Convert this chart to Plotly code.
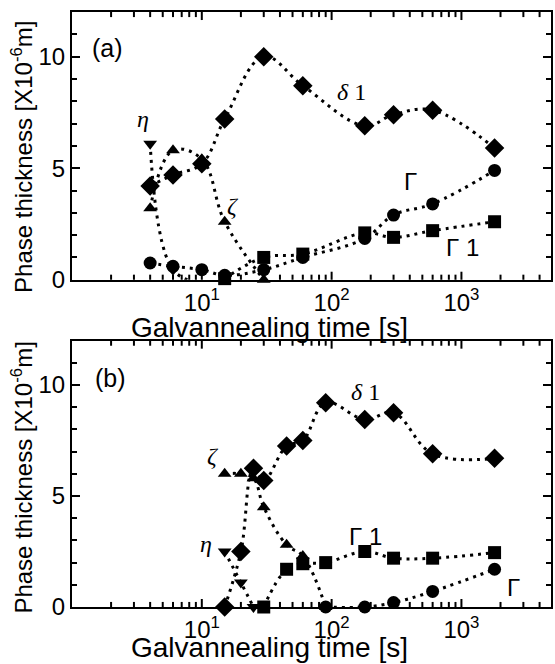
import plotly.graph_objects as go

# ---------------- Panel (a) data ----------------
a_t_delta1 = [4, 6, 10, 15, 30, 60, 180, 300, 600, 1800]
a_delta1 = [4.2, 4.7, 5.2, 7.2, 10.0, 8.7, 6.9, 7.4, 7.6, 5.9]
a_t_gamma = [4, 6, 10, 15, 30, 60, 180, 300, 600, 1800]
a_gamma = [0.75, 0.6, 0.45, 0.2, 0.45, 1.0, 1.85, 2.9, 3.4, 4.9]
a_t_gamma1 = [15, 30, 60, 180, 300, 600, 1800]
a_gamma1 = [0.05, 1.0, 1.15, 2.1, 1.9, 2.2, 2.6]
a_t_zeta = [4, 6, 10, 15, 30]
a_zeta = [3.2, 5.8, 5.4, 2.6, 0.0]
a_t_eta = [4, 6, 10]
a_eta = [6.1, 0.45, -0.15]

# ---------------- Panel (b) data ----------------
b_t_delta1 = [15, 20, 25, 30, 45, 60, 90, 180, 300, 600, 1800]
b_delta1 = [0.0, 2.5, 6.25, 5.7, 7.25, 7.5, 9.2, 8.45, 8.75, 6.9, 6.7]
b_t_zeta = [15, 20, 25, 30, 45, 60, 90]
b_zeta = [6.0, 6.0, 5.8, 4.5, 2.8, 2.3, 0.0]
b_t_eta = [15, 20, 25]
b_eta = [2.5, 1.1, 0.0]
b_t_gamma1 = [30, 45, 60, 90, 180, 300, 600, 1800]
b_gamma1 = [0.0, 1.7, 1.95, 2.0, 2.5, 2.2, 2.2, 2.45]
b_t_gamma = [90, 180, 300, 600, 1800]
b_gamma = [0.0, 0.0, 0.2, 0.7, 1.7]

x_major_vals = [10, 100, 1000]
x_major_text = ["10<sup>1</sup>", "10<sup>2</sup>", "10<sup>3</sup>"]
x_minor_vals = [m * d for d in (1, 10, 100) for m in range(2, 10)] + [2000, 3000, 4000]
y_tickvals = [0, 5, 10]
y_ticktext = ["0", "5", "10"]
Y_MAX = 12

FONT = "Liberation Sans, Arial, sans-serif"
SERIF = "Liberation Serif, Times New Roman, serif"
X_RANGE = [0, 3.69]

fig = go.Figure()

def add_series(t, v, symbol, size, xa, ya):
    fig.add_trace(go.Scatter(
        x=t, y=v, mode="lines+markers", xaxis=xa, yaxis=ya,
        line=dict(color="black", width=3, dash="3px,5px", shape="spline", smoothing=1.1),
        marker=dict(symbol=symbol, size=size, color="black"),
        cliponaxis=False, showlegend=False))

# panel a
add_series(a_t_gamma, a_gamma, "circle", 13, "x", "y")
add_series(a_t_gamma1, a_gamma1, "square", 13, "x", "y")
add_series(a_t_zeta, a_zeta, "triangle-up", 12, "x", "y")
add_series(a_t_eta, a_eta, "triangle-down", 12, "x", "y")
add_series(a_t_delta1, a_delta1, "diamond", 15, "x", "y")
# panel b
add_series(b_t_gamma, b_gamma, "circle", 13, "x2", "y2")
add_series(b_t_gamma1, b_gamma1, "square", 13, "x2", "y2")
add_series(b_t_zeta, b_zeta, "triangle-up", 12, "x2", "y2")
add_series(b_t_eta, b_eta, "triangle-down", 12, "x2", "y2")
add_series(b_t_delta1, b_delta1, "diamond", 15, "x2", "y2")

def xaxis_cfg(anchor):
    return dict(type="log", range=X_RANGE, domain=[0, 1], anchor=anchor,
                tickmode="array", tickvals=x_major_vals, ticktext=x_major_text,
                ticks="", showline=True, linewidth=2, linecolor="black", mirror=True,
                showgrid=False, zeroline=False,
                tickfont=dict(family=FONT, size=24, color="black"))

def yaxis_cfg(anchor, domain):
    return dict(range=[0, Y_MAX], domain=domain, anchor=anchor,
                tickmode="array", tickvals=y_tickvals, ticktext=y_ticktext,
                ticks="inside", ticklen=8, tickwidth=2, tickcolor="black",
                minor=dict(ticks="inside", ticklen=5, tickwidth=2, tickcolor="black",
                           dtick=1, tick0=0, showgrid=False),
                showline=True, linewidth=2, linecolor="black", mirror="allticks",
                showgrid=False, zeroline=False,
                tickfont=dict(family=FONT, size=24, color="black"))

fig.update_layout(
    width=555, height=664,
    margin=dict(l=72, r=2, t=12, b=57),
    paper_bgcolor="white", plot_bgcolor="white",
    xaxis=xaxis_cfg("y"), yaxis=yaxis_cfg("x", [0.55, 1.0]),
    xaxis2=xaxis_cfg("y2"), yaxis2=yaxis_cfg("x2", [0.0, 0.4476]),
)

# x-axis tick marks (inside, on bottom and top of each panel), drawn from the tick lists
shapes = []
for xr, yr in (("x", "y domain"), ("x2", "y2 domain")):
    for vals, ln in ((x_major_vals, 0.030), (x_minor_vals, 0.019)):
        for v in vals:
            shapes.append(dict(type="line", xref=xr, yref=yr, x0=v, x1=v, y0=0, y1=ln,
                               line=dict(color="black", width=2), layer="above"))
            shapes.append(dict(type="line", xref=xr, yref=yr, x0=v, x1=v, y0=1, y1=1 - ln,
                               line=dict(color="black", width=2), layer="above"))
fig.update_layout(shapes=shapes)

ann = []
def label(text, x, y, xr, yr, size=24, family=SERIF):
    ann.append(dict(text=text, x=x, y=y, xref=xr, yref=yr, showarrow=False,
                    xanchor="center", yanchor="middle",
                    font=dict(family=family, size=size, color="black")))

# panel a labels (x in log10 units)
label("(a)", 0.27, 10.4, "x", "y", 25, FONT)
label("<i>η</i>", 0.545, 7.2, "x", "y")
label("<i>ζ</i>", 1.237, 3.3, "x", "y")
label("<i>δ</i> 1", 2.15, 8.4, "x", "y")
label("Γ", 2.61, 4.4, "x", "y", 24, FONT)
label("Γ 1", 3.01, 1.45, "x", "y", 24, FONT)
# panel b labels
label("(b)", 0.30, 10.3, "x2", "y2", 25, FONT)
label("<i>ζ</i>", 1.083, 6.8, "x2", "y2")
label("<i>η</i>", 1.032, 2.86, "x2", "y2")
label("<i>δ</i> 1", 2.26, 9.7, "x2", "y2")
label("Γ 1", 2.26, 3.16, "x2", "y2", 24, FONT)
label("Γ", 3.40, 0.9, "x2", "y2", 24, FONT)

# axis titles
for yc in (0.47, -0.068):
    ann.append(dict(text="Galvannealing time [s]", x=0.412, y=yc, xref="paper", yref="paper",
                    xanchor="center", yanchor="middle",
                    showarrow=False, font=dict(family=FONT, size=28, color="black")))
for yc in (0.756, 0.217):
    ann.append(dict(text="Phase thickness [X10<sup>-6</sup>m]", x=-0.105, y=yc,
                    xref="paper", yref="paper", textangle=-90, showarrow=False,
                    xanchor="center", yanchor="middle",
                    font=dict(family=FONT, size=24, color="black")))
fig.update_layout(annotations=ann)

fig.write_html("out.html", config={"displayModeBar": False},
               post_script="document.body.style.margin='0';document.body.style.padding='0';")
